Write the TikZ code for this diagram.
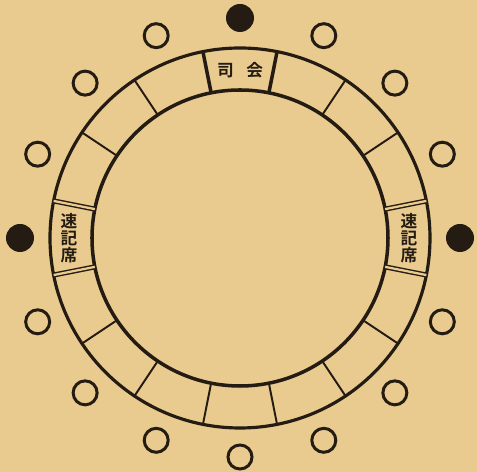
\documentclass[tikz,border=0pt]{standalone}
\usepackage{fontspec}
\newfontfamily\jpfont[BoldFont={Noto Sans CJK JP Bold}]{Noto Sans CJK JP}
\usetikzlibrary{positioning}
\definecolor{paper}{RGB}{233,203,143}
\definecolor{ink}{RGB}{36,27,18}

\begin{document}
\begin{tikzpicture}[x=0.02cm, y=0.02cm,
  rim/.style={draw=ink, line width=1.8pt},
  divider/.style={draw=ink, line width=1.1pt},
  headdivider/.style={draw=ink, line width=2pt},
  stenodivider/.style={draw=ink, line width=0.8pt, double=paper, double distance=1.3pt},
  seat/.style={circle, draw=ink, line width=1.7pt, minimum size=0.48cm, inner sep=0pt},
  chairseat/.style={circle, fill=ink, minimum size=0.56cm, inner sep=0pt},
  tag/.style={text=ink, inner sep=0pt, align=center, font=\jpfont\bfseries\fontsize{9.5}{9.7}\selectfont}]
  % paper
  \fill[paper] (-240,-234) rectangle (237,238);

  % the round table (outer and inner rim)
  \draw[rim] (0,0) circle (190);
  \draw[rim, line width=2pt] (0,0) circle (148);

  % places on the table
  \foreach \a in {33.75,56.25,123.75,146.25,213.75,236.25,258.75,281.25,303.75,326.25}
    \draw[divider] (\a:148) -- (\a:190);
  \foreach \a in {78.75,101.25}
    \draw[headdivider] (\a:148) -- (\a:190);
  \foreach \a in {168.75,191.25,-11.25,11.25}
    \draw[stenodivider] (\a:148) -- (\a:190);

  % labels of the special places
  \node[tag] (chair) at (90:168) {司\hspace{0.75em}会};
  \node[tag] (stenoL) at (180:171) {速\\記\\席};
  \node[tag] (stenoR) at (0:169) {速\\記\\席};

  % seats around the table (filled ones are at 0, 90 and 180 degrees)
  \foreach \i in {1,2,3,5,6,7,9,10,11,12,13,14,15}
    \node[seat] (seat\i) at (\i*22.5:219) {};
  \foreach \i in {0,4,8}
    \node[chairseat] (seat\i) at (\i*22.5:220) {};
\end{tikzpicture}
\end{document}
